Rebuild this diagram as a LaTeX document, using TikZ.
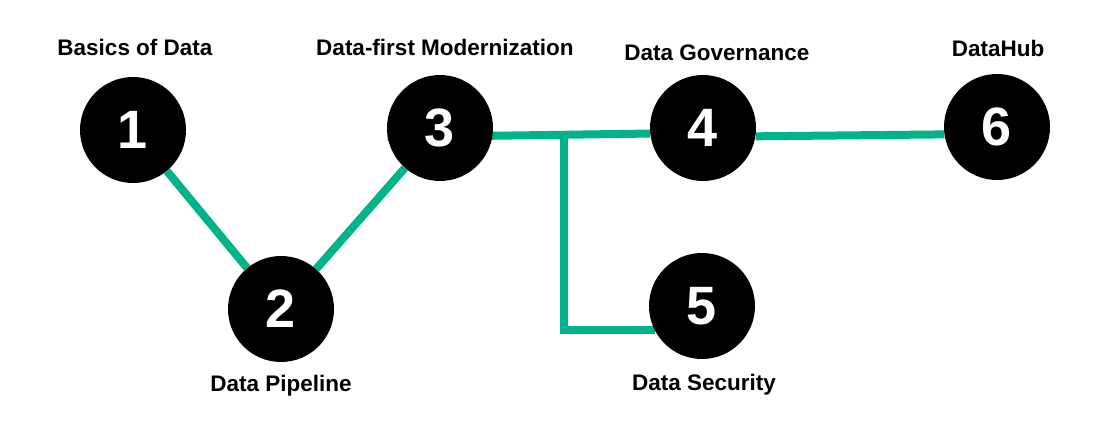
\documentclass[tikz,border=0pt]{standalone}
\usepackage{fontspec}
\setmainfont{Liberation Sans}
\usetikzlibrary{shapes.geometric, arrows, backgrounds}
\definecolor{linkgreen}{HTML}{00B388}
\tikzstyle{stage} = [circle, fill=black, minimum size=106pt, inner sep=0pt, text=white, font=\fontsize{54}{54}\selectfont\bfseries]
\tikzstyle{title} = [inner sep=0pt, font=\fontsize{22.5}{27}\selectfont\bfseries]
\tikzstyle{link} = [line width=8pt, draw=linkgreen]

\begin{document}
\begin{tikzpicture}[x=1pt, y=1pt]
    \useasboundingbox (0,0) rectangle (1098,440);

    \node (basics) [stage] at (133,310) {1};
    \node (pipeline) [stage] at (281,131) {2};
    \node (modern) [stage] at (440,312) {3};
    \node (govern) [stage] at (703,312) {4};
    \node (security) [stage] at (702,134) {5};
    \node (hub) [stage] at (997,313) {6};

    \node (basicslbl) [title] at (135,393) {Basics of Data};
    \node (pipelinelbl) [title] at (281,54) {Data Pipeline};
    \node (modernlbl) [title] at (445,393) {Data-first Modernization};
    \node (governlbl) [title] at (717,387) {Data Governance};
    \node (securitylbl) [title] at (704,55) {Data Security};
    \node (hublbl) [title] at (998,392) {DataHub};

    \coordinate (split) at (564,303.5);

    \begin{scope}[on background layer]
    \draw[link] (basics) -- (pipeline);
    \draw[link] (pipeline) -- (modern);
    \draw[link] (modern.190) -- (govern.186);
    \draw[link] (split) |- (security.207); % branch down to 5
    \draw[link] (govern.351) -- (hub.188);
    \end{scope}

\end{tikzpicture}
\end{document}
